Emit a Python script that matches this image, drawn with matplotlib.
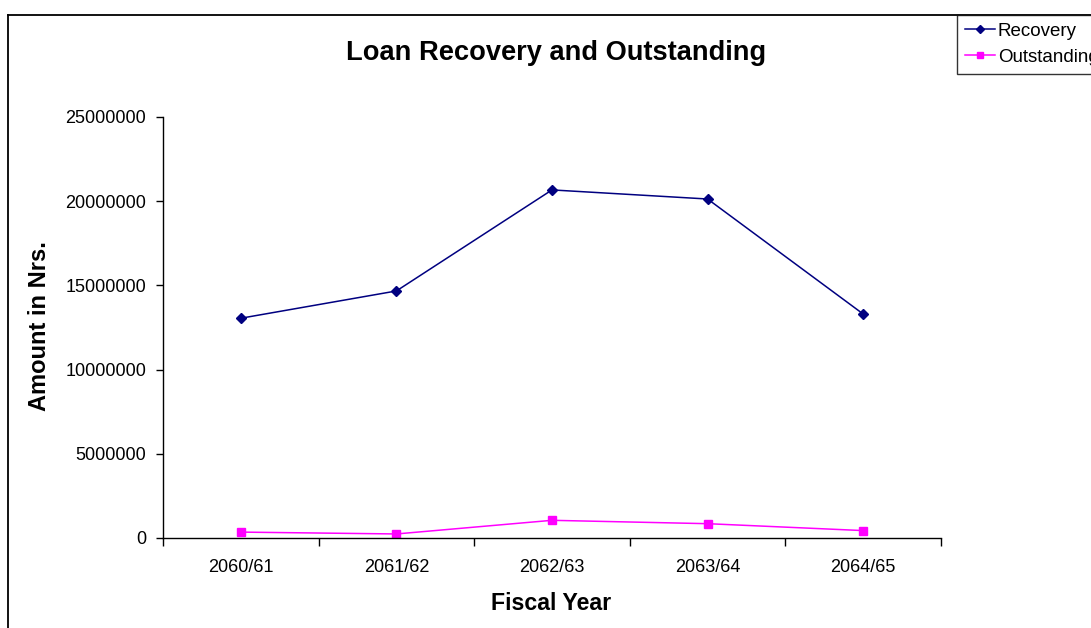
import matplotlib
matplotlib.use('Agg')
import matplotlib.pyplot as plt
from matplotlib.lines import Line2D

# Data
years = ['2060/61', '2061/62', '2062/63', '2063/64', '2064/65']
recovery = [13050000, 14670000, 20670000, 20130000, 13300000]
outstanding = [350000, 240000, 1050000, 850000, 440000]

plt.rcParams['font.family'] = ['Liberation Sans', 'DejaVu Sans']

W, H = 1091, 628
fig = plt.figure(figsize=(W / 100, H / 100), dpi=100)
ax = fig.add_axes([163 / W, 1 - 538 / H, 778 / W, 421 / H])

x = list(range(len(years)))
ax.plot(x, recovery, color='#000080', marker='D', markersize=5, linewidth=1.1,
        label='Recovery')
ax.plot(x, outstanding, color='#FF00FF', marker='s', markersize=5.5, linewidth=1.1,
        label='Outstanding')

ax.set_xlim(-0.5, len(years) - 0.5)
ax.set_ylim(0, 25000000)
ax.set_yticks(range(0, 25000001, 5000000))
ax.set_yticklabels([str(v) for v in range(0, 25000001, 5000000)])

# ticks between categories, labels centered on categories
ax.set_xticks([i - 0.5 for i in range(len(years) + 1)])
ax.set_xticklabels([])
ax.set_xticks(x, minor=True)
ax.set_xticklabels(years, minor=True)
ax.tick_params(axis='x', which='major', direction='out', length=6, width=1)
ax.tick_params(axis='x', which='minor', length=0, pad=15, labelsize=13)
ax.tick_params(axis='y', direction='out', length=5, width=1, pad=7, labelsize=13)

for side in ['top', 'right']:
    ax.spines[side].set_visible(False)
for side in ['left', 'bottom']:
    ax.spines[side].set_linewidth(1)

fig.text(556 / W, 1 - 53 / H, 'Loan Recovery and Outstanding', ha='center', va='center',
         fontsize=19.6, fontweight='bold')
fig.text(551 / W, 1 - 604 / H, 'Fiscal Year', ha='center', va='center',
         fontsize=16.7, fontweight='bold')
fig.text(40 / W, 1 - 326 / H, 'Amount in Nrs.', ha='center', va='center',
         rotation=90, fontsize=17, fontweight='bold')

# chart area border (left and top edges)
fig.add_artist(Line2D([8 / W, 8 / W], [0, 1 - 15 / H], transform=fig.transFigure,
                      color='black', linewidth=1.3))
fig.add_artist(Line2D([8 / W, 1], [1 - 15 / H, 1 - 15 / H], transform=fig.transFigure,
                      color='black', linewidth=1.3))

leg = fig.legend(loc='upper left', bbox_to_anchor=(957 / W, 1 - 15 / H),
                 fontsize=13.5, frameon=True, fancybox=False, handlelength=1.6,
                 handletextpad=0.15, borderpad=0.42, labelspacing=0.46,
                 borderaxespad=0, markerscale=0.9)
leg.get_frame().set_edgecolor('black')
leg.get_frame().set_linewidth(1)

fig.savefig('out.png', dpi=100)
